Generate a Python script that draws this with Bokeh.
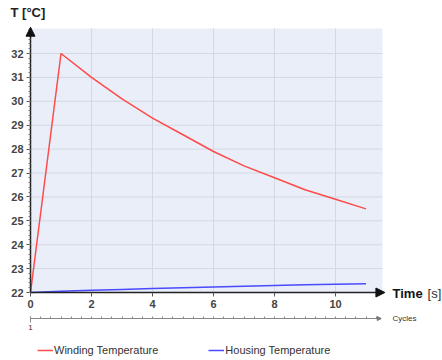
from bokeh.plotting import figure
from bokeh.models import (Range1d, LinearAxis, FixedTicker, Arrow, NormalHead, Label,
                          Legend, LegendItem, CustomJSTickFormatter, BoxAnnotation)
from bokeh.embed import file_html
from bokeh.resources import INLINE

time_s = [0, 1, 2, 3, 4, 5, 6, 7, 8, 9, 10, 11]
winding = [22.0, 32.0, 31.0, 30.1, 29.3, 28.6, 27.9, 27.3, 26.8, 26.3, 25.9, 25.5]
housing = [22.0, 22.05, 22.09, 22.13, 22.17, 22.2, 22.23, 22.26, 22.29, 22.32, 22.35, 22.37]
x_ticks = [0, 2, 4, 6, 8, 10]
y_ticks = [22, 23, 24, 25, 26, 27, 28, 29, 30, 31, 32]
cycle_labels = ["1"]

X0, X1 = 0.0, 11.54     # plot area
Y0, Y1 = 22.0, 33.05
CY = 20.91              # cycles axis position

p = figure(width=442, height=360, output_backend="svg", toolbar_location=None,
           x_range=Range1d(-0.984, 13.508), y_range=Range1d(19.155, 34.218),
           min_border=0)
p.background_fill_color = "white"
p.border_fill_color = "white"
p.outline_line_color = None
p.grid.visible = False

p.add_layout(BoxAnnotation(left=X0, right=X1, bottom=Y0, top=Y1,
                           fill_color="#e9eef8", fill_alpha=1, line_color=None, level="underlay"))

# grid lines from the tick arrays
p.segment(x0=x_ticks[1:], y0=[Y0] * (len(x_ticks) - 1), x1=x_ticks[1:], y1=[Y1] * (len(x_ticks) - 1),
          line_color="#d3d9e3", line_width=1)
p.segment(x0=[X0] * (len(y_ticks) - 1), y0=y_ticks[1:], x1=[X1] * (len(y_ticks) - 1), y1=y_ticks[1:],
          line_color="#d3d9e3", line_width=1)

xa = p.xaxis[0]
ya = p.yaxis[0]
xa.fixed_location = Y0
ya.fixed_location = X0
xa.bounds = (X0, X1)
ya.bounds = (Y0, Y1)
for ax in (xa, ya):
    ax.axis_line_color = "#222222"
    ax.axis_line_width = 1.5
    ax.major_tick_line_color = "#555555"
    ax.minor_tick_line_color = "#777777"
    ax.major_tick_in = 0
    ax.major_tick_out = 4
    ax.minor_tick_in = 0
    ax.minor_tick_out = 2
    ax.major_label_text_font = "Liberation Sans"
    ax.major_label_text_font_style = "bold"
    ax.major_label_text_font_size = "11px"
    ax.major_label_text_color = "#444444"
    ax.major_label_standoff = 3

xa.ticker = FixedTicker(ticks=x_ticks, minor_ticks=[])
ya.ticker = FixedTicker(ticks=y_ticks, minor_ticks=[22 + i * 0.2 for i in range(56)])

# Cycles axis
cax = LinearAxis(fixed_location=CY, bounds=(X0, 11.45))
cax.ticker = FixedTicker(ticks=[0], minor_ticks=[i / 3 for i in range(35)])
cax.formatter = CustomJSTickFormatter(args=dict(labs=cycle_labels), code="return labs[index] || '';")
cax.axis_line_color = "#888888"
cax.major_tick_line_color = "#888888"
cax.minor_tick_line_color = "#888888"
cax.major_tick_in = 2
cax.major_tick_out = 4
cax.minor_tick_in = 2
cax.minor_tick_out = 0
cax.major_label_text_font = "Liberation Sans"
cax.major_label_text_font_size = "8px"
cax.major_label_text_color = "#333333"
cax.major_label_standoff = 2
p.add_layout(cax, "below")

r1 = p.line(time_s, winding, line_color="#ff4a4a", line_width=1.5)
r2 = p.line(time_s, housing, line_color="#4a4aff", line_width=1.5)

# axis arrows
p.add_layout(Arrow(end=NormalHead(size=9, fill_color="#111111", line_color="#111111"),
                   x_start=X0, y_start=Y0, x_end=11.62, y_end=Y0, line_width=0, line_alpha=0))
p.add_layout(Arrow(end=NormalHead(size=9, fill_color="#111111", line_color="#111111"),
                   x_start=X0, y_start=Y0, x_end=X0, y_end=33.1, line_width=0, line_alpha=0))
p.add_layout(Arrow(end=NormalHead(size=4, fill_color="#777777", line_color="#777777"),
                   x_start=X0, y_start=CY, x_end=11.5, y_end=CY, line_width=0, line_alpha=0))

p.add_layout(Label(x=-0.656, y=33.72, text="T [°C]", text_font="Liberation Sans", text_font_style="bold",
                   text_font_size="13px", text_color="#222222", text_baseline="middle"))
p.add_layout(Label(x=11.87, y=21.96, text="Time", text_font="Liberation Sans", text_font_style="bold",
                   text_font_size="13px", text_color="#111111", text_baseline="middle"))
p.add_layout(Label(x=13.02, y=21.96, text="[s]", text_font="Liberation Sans",
                   text_font_size="13px", text_color="#333333", text_baseline="middle"))
p.add_layout(Label(x=11.87, y=CY, text="Cycles", text_font="Liberation Sans",
                   text_font_size="8px", text_color="#333333", text_baseline="middle"))

legend = Legend(items=[LegendItem(label="Winding Temperature", renderers=[r1]),
                       LegendItem(label="Housing Temperature", renderers=[r2])],
                orientation="horizontal", location=(37, 4),
                label_text_font="Liberation Sans", label_text_font_size="11px",
                label_text_color="#333333", glyph_width=16, glyph_height=12, label_standoff=1,
                spacing=50, border_line_color=None, background_fill_alpha=0,
                padding=0, margin=0)
p.add_layout(legend, "center")

open("out.html", "w").write(file_html(p, INLINE))
